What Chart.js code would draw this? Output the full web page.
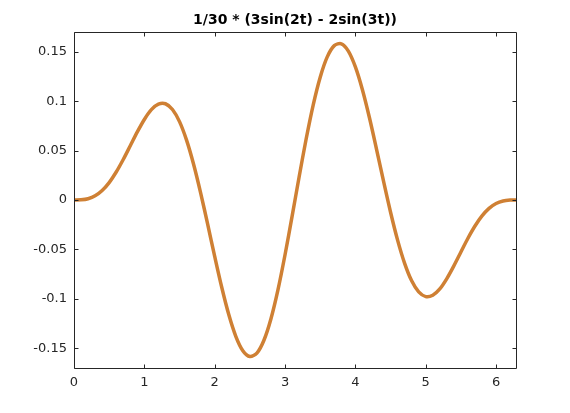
<!DOCTYPE html>
<html>
<head>
<meta charset="utf-8">
<script src="https://cdn.jsdelivr.net/npm/chart.js@4.4.0/dist/chart.umd.min.js"></script>
<style>
  html, body { margin: 0; padding: 0; background: #fff; }
  #wrap { width: 570px; height: 413px; }
</style>
</head>
<body>
<div id="wrap"><canvas id="plot"></canvas></div>
<script>
// values
const tValues = [0, 0.1, 0.2, 0.3, 0.4, 0.5, 0.6, 0.7, 0.8, 0.9,
  1.0, 1.1, 1.2, 1.3, 1.4, 1.5, 1.6, 1.7, 1.8, 1.9,
  2.0, 2.1, 2.2, 2.3, 2.4, 2.5, 2.6, 2.7, 2.8, 2.9,
  3.0, 3.1, 3.2, 3.3, 3.4, 3.5, 3.6, 3.7, 3.8, 3.9,
  4.0, 4.1, 4.2, 4.3, 4.4, 4.5, 4.6, 4.7, 4.8, 4.9,
  5.0, 5.1, 5.2, 5.3, 5.4, 5.5, 5.6, 5.7, 5.8, 5.9,
  6.0, 6.1, 6.2, 6.2832];
const fValues = [0, 0.0002, 0.0013, 0.0042, 0.0096, 0.0176, 0.0283, 0.0410, 0.0549, 0.0689,
  0.0815, 0.0914, 0.0970, 0.0974, 0.0916, 0.0793, 0.0606, 0.0362, 0.0073, -0.0245,
  -0.0571, -0.0883, -0.1159, -0.1379, -0.1525, -0.1584, -0.1549, -0.1419, -0.1201, -0.0907,
  -0.0554, -0.0166, 0.0233, 0.0617, 0.0961, 0.1243, 0.1448, 0.1562, 0.1581, 0.1507,
  0.1347, 0.1116, 0.0832, 0.0516, 0.0190, -0.0124, -0.0406, -0.0641, -0.0818, -0.0930,
  -0.0978, -0.0964, -0.0900, -0.0795, -0.0666, -0.0526, -0.0387, -0.0263, -0.0161, -0.0085,
  -0.0036, -0.0010, -0.0001, 0];
const xTicks = [0, 1, 2, 3, 4, 5, 6];
const yTicks = [-0.15, -0.1, -0.05, 0, 0.05, 0.1, 0.15];
const titleText = '1/30 * (3sin(2t) - 2sin(3t))';

const axisColor = '#262626';
const font = 'DejaVu Sans';

// octave style box: frame, inward ticks on all sides, title over the plot area
const frame = {
    id: 'frame',
    afterDraw(chart) {
        const c = chart.ctx;
        const a = chart.chartArea;
        const sx = chart.scales.x, sy = chart.scales.y;
        const L = Math.round(a.left) + 0.5, R = Math.round(a.right) + 0.5;
        const T = Math.round(a.top) + 0.5, B = Math.round(a.bottom) + 0.5;
        const tl = 4;
        c.save();
        c.strokeStyle = axisColor;
        c.lineWidth = 1;
        c.beginPath();
        c.rect(L, T, R - L, B - T);
        xTicks.forEach(v => {
            const px = Math.round(sx.getPixelForValue(v)) + 0.5;
            c.moveTo(px, B); c.lineTo(px, B - tl);
            c.moveTo(px, T); c.lineTo(px, T + tl);
        });
        yTicks.forEach(v => {
            const py = Math.round(sy.getPixelForValue(v)) + 0.5;
            c.moveTo(L, py); c.lineTo(L + tl, py);
            c.moveTo(R, py); c.lineTo(R - tl, py);
        });
        c.stroke();
        c.fillStyle = '#000';
        c.font = 'bold 14px "' + font + '"';
        c.textAlign = 'center';
        c.textBaseline = 'alphabetic';
        c.fillText(titleText, (a.left + a.right) / 2, 24);
        c.restore();
    }
};

const ctx = document.getElementById('plot').getContext('2d');
const plot = new Chart(ctx, {
    type: 'line',
    data: {
        datasets: [{
            data: tValues.map((t, i) => ({ x: t, y: fValues[i] })),
            borderColor: '#cf8034',
            borderWidth: 3.5,
            pointRadius: 0,
            fill: false,
            tension: 0.3
        }]
    },
    options: {
        responsive: true,
        maintainAspectRatio: false,
        animation: false,
        layout: { padding: { top: 32, right: 54, left: 0, bottom: 0 } },
        plugins: {
            legend: { display: false },
            title: { display: false },
            tooltip: { enabled: false }
        },
        scales: {
            x: {
                type: 'linear',
                min: 0,
                max: tValues[tValues.length - 1],
                afterBuildTicks: s => { s.ticks = xTicks.map(v => ({ value: v })); },
                afterFit: s => { s.height = 45; },
                grid: { display: false, drawTicks: false },
                border: { display: false },
                ticks: {
                    color: axisColor,
                    padding: 7,
                    maxRotation: 0,
                    font: { family: font, size: 13 },
                    callback: v => String(v)
                }
            },
            y: {
                min: -0.17,
                max: 0.17,
                afterBuildTicks: s => { s.ticks = yTicks.map(v => ({ value: v })); },
                afterFit: s => { s.width = 74; },
                grid: { display: false, drawTicks: false },
                border: { display: false },
                ticks: {
                    color: axisColor,
                    padding: 7,
                    font: { family: font, size: 13 },
                    callback: v => String(v)
                }
            }
        }
    },
    plugins: [frame]
});
</script>
</body>
</html>
